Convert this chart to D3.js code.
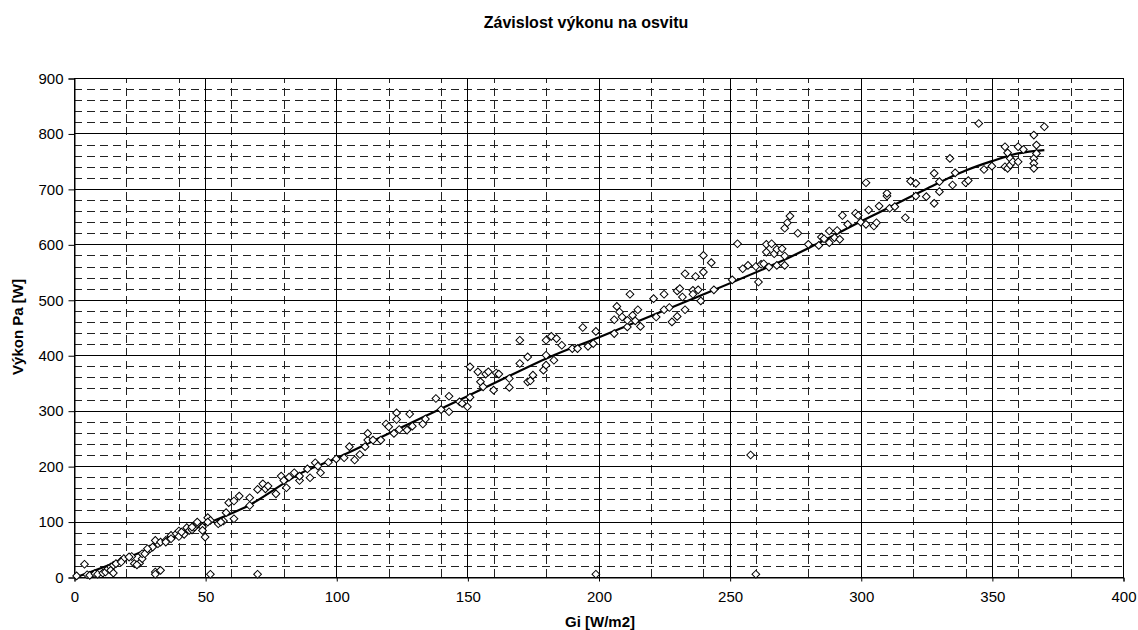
<!DOCTYPE html>
<html>
<head>
<meta charset="utf-8">
<script src="https://cdn.jsdelivr.net/npm/d3@7"></script>
<style>
  body { margin: 0; background: #fff; }
  svg { display: block; }
  text { font-family: Arial, "Liberation Sans", sans-serif; fill: #000; }
</style>
</head>
<body>
<svg id="chart" width="1138" height="630"></svg>
<script>
// Irradiance Gi [W/m2] of each measurement
const gi = [
  1, 4, 5, 6, 8, 9, 11, 12, 13, 14, 15, 14, 15, 16, 18, 19, 21, 22, 23, 25,
  26, 26, 28, 29, 30, 32, 31, 31, 31, 33, 33, 35, 37, 37, 39, 40, 40, 42, 43, 44,
  45, 46, 47, 47, 49, 49, 50, 51, 52, 52, 55, 57, 58, 59, 61, 61, 63, 67, 67, 70,
  70, 72, 73, 74, 77, 79, 80, 81, 82, 84, 86, 86, 89, 90, 92, 93, 18, 21, 24, 27,
  28, 35, 37, 41, 45, 51, 56,
  94, 97, 100, 103, 105, 107, 109, 111, 112, 112, 114, 117, 119, 120, 122, 123, 123, 124, 127, 128,
  129, 133, 134, 138, 140, 143, 143, 147, 148, 150, 151, 151, 154, 155, 156, 157, 158, 160, 161, 162,
  166, 166, 170, 170, 173, 173, 174, 175, 179, 180, 180, 180,
  183, 182, 184, 186, 190, 192, 194, 196, 198, 199, 206, 206, 207, 208, 209, 211, 211, 212, 213, 215,
  216, 214, 221, 222, 225, 225, 227, 228, 230, 230, 231, 232, 233, 233, 236, 236, 237, 238, 239, 240,
  240, 243, 244, 251, 253, 255, 257, 260, 261, 262, 263, 264, 264, 265, 266, 267, 268, 268,
  270, 271, 271, 271, 272, 273, 276, 280, 284, 285, 286, 288, 288, 290, 291, 292, 293, 295, 298, 299,
  300, 302, 302, 303, 305, 306, 307, 310, 310, 311, 313, 317, 319, 321, 321, 325, 328, 328, 330, 330,
  334, 335, 336,
  340, 341, 345, 347, 350, 355, 356, 355, 356, 357, 357, 358, 360, 360, 362, 366, 366, 366, 366, 367,
  367, 370,
  199, 258, 260
];
// Measured output power Pa [W], paired with gi
const pa = [
  2, 23, 4, 3, 6, 5, 7, 9, 15, 18, 21, 12, 7, 24, 29, 33, 36, 37, 24, 25,
  33, 42, 47, 51, 54, 60, 66, 9, 5, 12, 63, 66, 72, 75, 78, 83, 73, 77, 89, 84,
  85, 90, 96, 99, 90, 84, 72, 107, 102, 5, 96, 101, 116, 134, 105, 137, 146, 129, 143, 158,
  5, 168, 159, 164, 150, 182, 174, 161, 180, 188, 174, 182, 195, 179, 206, 200, 27, 36, 22, 42,
  51, 63, 69, 81, 90, 99, 99,
  188, 207, 213, 215, 235, 211, 221, 235, 247, 259, 247, 247, 276, 271, 259, 296, 284, 266, 265, 294,
  272, 276, 285, 322, 302, 298, 326, 316, 313, 307, 324, 379, 370, 352, 343, 366, 370, 337, 368, 366,
  358, 342, 385, 427, 397, 352, 354, 364, 373, 400, 427, 382,
  391, 434, 430, 418, 412, 412, 450, 416, 421, 443, 439, 464, 488, 478, 469, 451, 463, 510, 472, 482,
  452, 462, 502, 469, 510, 482, 486, 460, 516, 470, 520, 505, 547, 482, 517, 510, 542, 518, 498, 550,
  580, 567, 518, 536, 601, 556, 562, 560, 532, 564, 565, 600, 586, 559, 601, 583, 591, 562,
  592, 562, 579, 629, 639, 651, 620, 600, 598, 613, 610, 603, 624, 612, 625, 609, 652, 636, 656, 652,
  640, 711, 636, 662, 633, 639, 669, 687, 692, 665, 668, 648, 714, 710, 687, 686, 674, 728, 695, 713,
  755, 707, 729,
  711, 715, 818, 735, 741, 776, 765, 740, 737, 755, 743, 749, 749, 776, 771, 797, 755, 746, 737, 779,
  764, 812,
  5, 220, 5
];

// Polynomial trend curve (sampled)
const trendGi = [1, 20, 50, 67, 86, 100, 125, 150, 181, 200, 235, 269, 283, 300, 325, 340, 350, 360, 370];
const trendPa = [0, 34, 95, 130, 186, 214, 270, 326, 396, 432, 500, 568, 600, 641, 700, 733, 750, 764, 770];

// Axis ticks and grid steps
const xTicks = [0, 50, 100, 150, 200, 250, 300, 350, 400];
const yTicks = [0, 100, 200, 300, 400, 500, 600, 700, 800, 900];
const xMinor = d3.range(0, 401, 20);
const yMinor = d3.range(0, 901, 20);

const chartTitle = "Závislost výkonu na osvitu";
const xTitle = "Gi [W/m2]";
const yTitle = "Výkon Pa [W]";

const svg = d3.select("#chart");
const plotLeft = 74, plotRight = 1123, plotTop = 78, plotBottom = 577;

const x = d3.scaleLinear().domain([0, 400]).range([plotLeft, plotRight]);
const y = d3.scaleLinear().domain([0, 900]).range([plotBottom, plotTop]);
const crisp = v => Math.round(v) + 0.5;

// Minor dashed grid
const grid = svg.append("g");
grid.selectAll("line.ymin").data(yMinor.filter(v => v % 100 !== 0)).join("line")
  .attr("x1", plotLeft).attr("x2", plotRight)
  .attr("y1", d => crisp(y(d))).attr("y2", d => crisp(y(d)))
  .attr("stroke", "#222").attr("stroke-width", 1).attr("stroke-dasharray", "8,5");
grid.selectAll("line.xmin").data(xMinor.filter(v => v % 50 !== 0)).join("line")
  .attr("y1", plotBottom).attr("y2", plotTop)
  .attr("x1", d => crisp(x(d))).attr("x2", d => crisp(x(d)))
  .attr("stroke", "#222").attr("stroke-width", 1).attr("stroke-dasharray", "8,5");

// Major solid grid
grid.selectAll("line.ymaj").data(yTicks).join("line")
  .attr("x1", plotLeft).attr("x2", plotRight + 1)
  .attr("y1", d => crisp(y(d))).attr("y2", d => crisp(y(d)))
  .attr("stroke", "#000").attr("stroke-width", 1);
grid.selectAll("line.xmaj").data(xTicks).join("line")
  .attr("y1", plotBottom + 1).attr("y2", plotTop)
  .attr("x1", d => crisp(x(d))).attr("x2", d => crisp(x(d)))
  .attr("stroke", "#000").attr("stroke-width", 1);

// Axes
const yAxis = svg.append("g").attr("transform", `translate(${crisp(plotLeft)},0.5)`)
  .call(d3.axisLeft(y).tickValues(yTicks).tickSize(6).tickPadding(5).tickFormat(d3.format("d")));
const xAxis = svg.append("g").attr("transform", `translate(0.5,${crisp(plotBottom)})`)
  .call(d3.axisBottom(x).tickValues(xTicks).tickSize(4).tickPadding(10).tickFormat(d3.format("d")));
[yAxis, xAxis].forEach(a => {
  a.select(".domain").attr("stroke", "#000");
  a.selectAll(".tick line").attr("stroke", "#000");
  a.selectAll(".tick text").attr("font-size", 15).attr("font-family", "Arial, 'Liberation Sans', sans-serif").attr("fill", "#000");
});

// Trend line
const pts = trendGi.map((g, i) => [g, trendPa[i]]);
svg.append("path").datum(pts)
  .attr("fill", "none").attr("stroke", "#000").attr("stroke-width", 2.2)
  .attr("d", d3.line().x(d => x(d[0])).y(d => y(d[1])).curve(d3.curveCatmullRom));

// Measured points as hollow diamonds
const diamond = d3.symbol().type(d3.symbolSquare).size(30)();
svg.append("g").selectAll("path").data(gi.map((g, i) => [g, pa[i]])).join("path")
  .attr("d", diamond)
  .attr("transform", d => `translate(${x(d[0])},${y(d[1])}) rotate(45)`)
  .attr("fill", "#fff").attr("stroke", "#000").attr("stroke-width", 1);

// Titles
svg.append("text").attr("x", 586).attr("y", 28).attr("text-anchor", "middle")
  .attr("font-size", 16).attr("font-weight", "bold").text(chartTitle);
svg.append("text").attr("x", 600).attr("y", 627).attr("text-anchor", "middle")
  .attr("font-size", 15).attr("font-weight", "bold").text(xTitle);
svg.append("text").attr("transform", "translate(23,327) rotate(-90)").attr("text-anchor", "middle")
  .attr("font-size", 15).attr("font-weight", "bold").text(yTitle);
</script>
</body>
</html>
